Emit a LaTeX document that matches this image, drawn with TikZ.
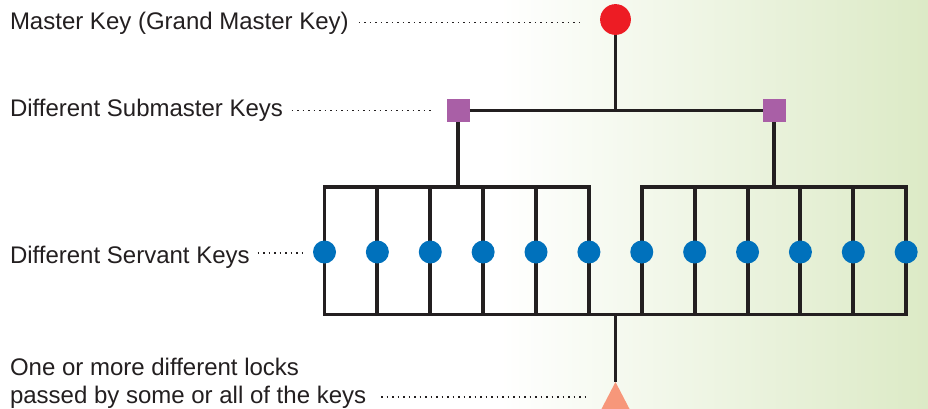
\documentclass[tikz,border=0pt]{standalone}
\usepackage{fontspec}
\setmainfont{Liberation Sans}
\usetikzlibrary{calc}
\definecolor{ink}{HTML}{231F20}
\definecolor{keyred}{HTML}{ED1C24}
\definecolor{keypurple}{HTML}{A95FA6}
\definecolor{keyblue}{HTML}{0071BC}
\definecolor{lockpink}{HTML}{F7977A}
\definecolor{bggreen}{HTML}{DCEAC6}
\newcommand{\Xo}{324.5}
\newcommand{\Dx}{52.88}
\newcommand{\Yt}{187}
\newcommand{\Yk}{252}
\newcommand{\Yb}{314.5}
\newcommand{\Mid}{615.5}

\begin{document}
\begin{tikzpicture}[x=1pt,y=-1pt, line width=3.9pt, every node/.style={text=ink, inner sep=0pt, outer sep=0pt},
  keytext/.style={font=\fontsize{24}{27.6}\selectfont, anchor=base west},
  leader/.style={ink, line width=1.7pt, dash pattern=on 1.7pt off 3.8pt},
  servant/.style={circle, fill=keyblue, minimum size=23pt},
  submaster/.style={rectangle, fill=keypurple, minimum size=23pt}]
\useasboundingbox (0,0) rectangle (928,408);
% ---- background: white fading to pale green on the right
\fill[white] (0,0) rectangle (500,408);
\shade[left color=white, right color=bggreen] (500,0) rectangle (928,408);
% ---- key nodes
\node[circle, fill=keyred, minimum size=30.8pt] (master) at (\Mid,19.5) {};
\node[submaster] (subl) at (458,110.5) {};
\node[submaster] (subr) at (774,110.5) {};
\foreach \i in {1,...,12} {
  \coordinate (t\i) at ({\Xo+(\i-1)*\Dx},\Yt);
  \coordinate (b\i) at ({\Xo+(\i-1)*\Dx},\Yb);
}
\coordinate (mj) at (\Mid,110.5);
\coordinate (lsj) at (458,\Yt);
\coordinate (rsj) at (774,\Yt);
\coordinate (lj) at (\Mid,\Yb);
\coordinate (lock) at (\Mid,382);
% ---- tree: master -> submasters -> servants -> lock
\draw[ink] (master) -- (mj);
\draw[ink] (subl) -- (subr);
\draw[ink] (subl) -- (lsj);
\draw[ink] (subr) -- (rsj);
\draw[ink] (b1) -- (t1) -- (t6) -- (b6);
\draw[ink] (b7) -- (t7) -- (t12) -- (b12);
\draw[ink] (t1) -- (b1) -- (b12) -- (t12);
\foreach \i in {2,3,4,5,8,9,10,11} { \draw[ink] (t\i) -- (b\i); }
\foreach \i in {1,...,12} { \node[servant] (k\i) at ({\Xo+(\i-1)*\Dx},\Yk) {}; }
\draw[ink] (lj) -- (lock);
\fill[lockpink] (lock) -- ++(-16.1,31) -- ++(32.2,0) -- cycle;
% ---- labels with dotted leaders
\node[keytext] (mtext) at (10,29) {Master Key (Grand Master Key)};
\node[keytext] (stext) at (10,116.5) {Different Submaster Keys};
\node[keytext] (vtext) at (10,263) {Different Servant Keys};
\node[keytext] (ltexta) at (10,375.4) {One or more different locks};
\node[keytext] (ltext) at (10,403) {passed by some or all of the keys};
\coordinate (mtip) at (583,22.5);
\coordinate (stip) at (434,110.5);
\coordinate (vtip) at (302,253);
\coordinate (ltip) at (589,397);
\draw[leader] ([shift={(10,-6.5)}]mtext.base east) -- (mtip);
\draw[leader] ([shift={(8.5,-6)}]stext.base east) -- (stip);
\draw[leader] ([shift={(8,-10)}]vtext.base east) -- (vtip);
\draw[leader] ([shift={(15,-6)}]ltext.base east) -- (ltip);
\end{tikzpicture}
\end{document}
